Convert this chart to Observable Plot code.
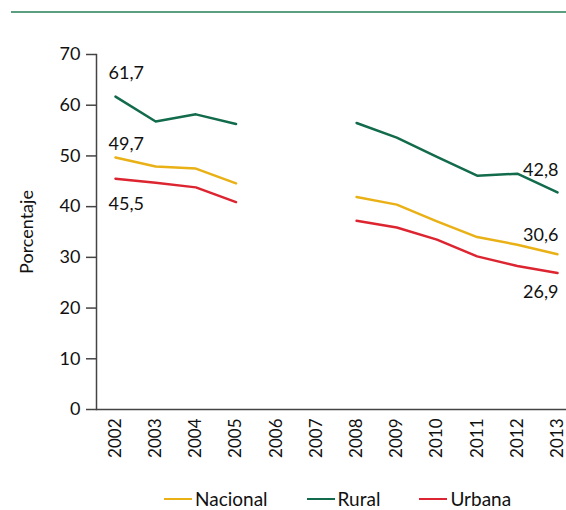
<!DOCTYPE html>
<html>
<head>
<meta charset="utf-8">
<script src="https://cdn.jsdelivr.net/npm/d3@7"></script>
<script src="https://cdn.jsdelivr.net/npm/@observablehq/plot@0.6"></script>
<style>
  html, body { margin: 0; padding: 0; background: #fff; }
  body { width: 566px; height: 510px; position: relative; overflow: hidden; font-family: Lato, sans-serif; }
  #topline { position: absolute; left: 11px; right: 0; top: 11px; height: 0; border-top: 2px solid #5b9e80; }
  #chart { position: absolute; left: 0; top: 0; }
  #legend { position: absolute; left: 164px; top: 489px; display: flex; gap: 39px; font-size: 19px; color: #111; line-height: 20px; }
  .item { display: flex; align-items: center; }
  .sw { width: 28px; height: 0; border-top: 2.5px solid; margin-right: 3px; }
</style>
</head>
<body>
<div id="topline"></div>
<div id="chart"></div>
<div id="legend"></div>
<script>
const years = [2002, 2003, 2004, 2005, 2006, 2007, 2008, 2009, 2010, 2011, 2012, 2013];
const nacional = [49.7, 47.9, 47.5, 44.6, null, null, 41.9, 40.4, 37.1, 34.0, 32.5, 30.6];
const rural    = [61.7, 56.8, 58.2, 56.3, null, null, 56.5, 53.6, 49.8, 46.1, 46.5, 42.8];
const urbana   = [45.5, 44.7, 43.8, 40.9, null, null, 37.2, 35.9, 33.5, 30.2, 28.3, 26.9];
const seriesNames = ["Nacional", "Rural", "Urbana"];
const seriesColors = ["#e9b116", "#126b4b", "#dc2530"];
const yTicks = [0, 10, 20, 30, 40, 50, 60, 70];
const yLabel = "Porcentaje";

const seriesValues = [nacional, rural, urbana];
const data = [];
seriesNames.forEach((s, i) => years.forEach((y, j) => data.push({series: s, year: y, value: seriesValues[i][j]})));

const labels = [
  {year: 2002, value: rural[0], dy: -23, anchor: "start", dx: -7},
  {year: 2002, value: nacional[0], dy: -13, anchor: "start", dx: -7},
  {year: 2002, value: urbana[0], dy: 25, anchor: "start", dx: -7},
  {year: 2013, value: rural[11], dy: -22, anchor: "end", dx: 1},
  {year: 2013, value: nacional[11], dy: -19, anchor: "end", dx: 1},
  {year: 2013, value: urbana[11], dy: 19, anchor: "end", dx: 1}
];
const fmt = v => v.toFixed(1).replace(".", ",");

const chart = Plot.plot({
  width: 566,
  height: 480,
  marginLeft: 96,
  marginRight: 0,
  marginTop: 54,
  marginBottom: 71,
  style: {fontFamily: "Lato, sans-serif", fontSize: "18px", color: "#111", background: "transparent"},
  x: {domain: [2002, 2013], insetLeft: 19, insetRight: 9, label: null},
  y: {domain: [0, 70], label: null},
  color: {domain: seriesNames, range: seriesColors},
  marks: [
    Plot.axisY({ticks: yTicks, tickSize: 10, tickPadding: 6, label: null, fontSize: 18, stroke: "#444", strokeWidth: 1.5, fill: "#111"}),
    Plot.axisX({ticks: years, tickFormat: d => String(d), tickSize: 0, tickRotate: -90, tickPadding: 9, label: null, fontSize: 17, fill: "#111"}),
    Plot.ruleY([0], {stroke: "#444", strokeWidth: 1.5}),
    Plot.frame({anchor: "left", stroke: "#444", strokeWidth: 1.5}),
    Plot.text([yLabel], {frameAnchor: "left", textAnchor: "middle", dx: -69, rotate: -90, text: d => d, fontSize: 18, fill: "#111"}),
    Plot.lineY(data, {x: "year", y: "value", z: "series", stroke: "series", strokeWidth: 2.5, defined: d => d.value != null}),
    ...labels.map(l => Plot.text([l], {x: "year", y: "value", dx: l.dx, dy: l.dy, textAnchor: l.anchor, text: d => fmt(d.value), fontSize: 18, fill: "#111"}))
  ]
});
document.getElementById("chart").append(chart);

const legend = document.getElementById("legend");
seriesNames.forEach((s, i) => {
  const item = document.createElement("div");
  item.className = "item";
  const sw = document.createElement("span");
  sw.className = "sw";
  sw.style.borderTopColor = seriesColors[i];
  const t = document.createElement("span");
  t.textContent = s;
  item.append(sw, t);
  legend.append(item);
});
</script>
</body>
</html>
